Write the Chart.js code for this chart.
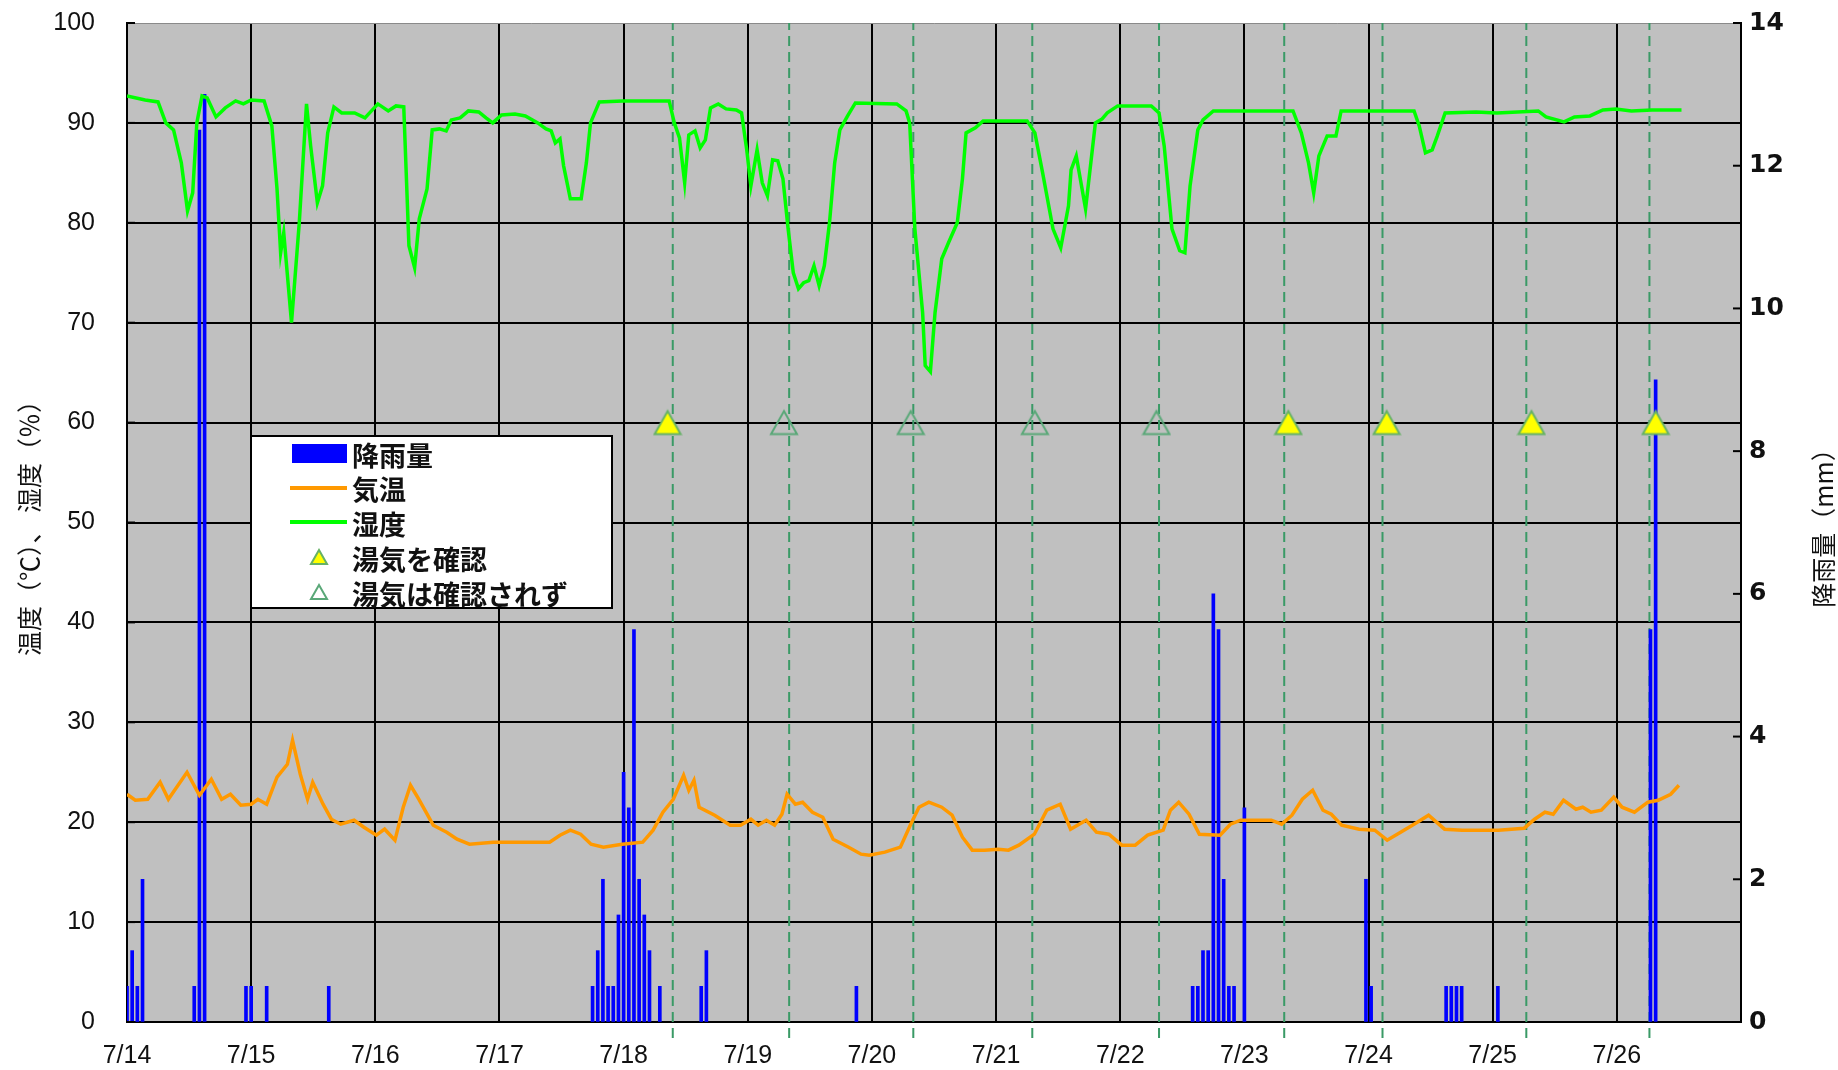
<!DOCTYPE html>
<html lang="ja">
<head>
<meta charset="utf-8">
<title>降雨量・気温・湿度</title>
<script src="https://cdn.jsdelivr.net/npm/chart.js@4.4.1/dist/chart.umd.min.js"></script>
<style>
    html, body { margin: 0; padding: 0; background: #fff; }
    .wrap { position: relative; width: 1838px; height: 1070px; }
    canvas { display: block; }
    .legend {
        position: absolute; left: 250px; top: 435px; width: 359px; height: 170px;
        border: 2px solid #000; background: #fff;
        font-family: 'Noto Sans CJK JP', sans-serif; font-size: 27px; font-weight: bold; color: #111;
    }
    .legend .sym { position: absolute; }
    .legend .label { position: absolute; left: 100px; line-height: 1; white-space: nowrap; transform: translateY(-50%); }
</style>
</head>
<body>
<div class="wrap">
    <canvas id="chart" width="1838" height="1070"></canvas>
    <div class="legend">
        <div class="sym" style="left:40px; top:7px; width:55px; height:19px; background:#0000ff;"></div>
        <span class="label" style="top:17px;">降雨量</span>
        <div class="sym" style="left:38px; top:49px; width:57px; height:4px; background:#ff9900;"></div>
        <span class="label" style="top:51px;">気温</span>
        <div class="sym" style="left:38px; top:83px; width:57px; height:4px; background:#00ff00;"></div>
        <span class="label" style="top:86px;">湿度</span>
        <svg class="sym" style="left:57px; top:111px;" width="20" height="18"><polygon points="10,2 18,16 2,16" fill="#ffff00" stroke="#66b266" stroke-width="2"/></svg>
        <span class="label" style="top:121px;">湯気を確認</span>
        <svg class="sym" style="left:57px; top:146px;" width="20" height="18"><polygon points="10,2 18,16 2,16" fill="none" stroke="#5aa878" stroke-width="2"/></svg>
        <span class="label" style="top:156px;">湯気は確認されず</span>
    </div>
</div>
<script>
const dayLabels = ['7/14', '7/15', '7/16', '7/17', '7/18', '7/19', '7/20', '7/21', '7/22', '7/23', '7/24', '7/25', '7/26'];

// hours counted from 7/14 0:00
const rainHours = [0, 1, 2, 3, 13, 14, 15, 23, 24, 27, 39,
    90, 91, 92, 93, 94, 95, 96, 97, 98, 99, 100, 101, 103, 111, 112,
    141,
    206, 207, 208, 209, 210, 211, 212, 213, 214, 216,
    239.5, 240.5,
    255, 256, 257, 258, 265,
    294.5, 295.5];
const rainMm = [0.5, 1, 0.5, 2, 0.5, 12.5, 13, 0.5, 0.5, 0.5, 0.5,
    0.5, 1, 2, 0.5, 0.5, 1.5, 3.5, 3, 5.5, 2, 1.5, 1, 0.5, 0.5, 1,
    0.5,
    0.5, 0.5, 1, 1, 6, 5.5, 2, 0.5, 0.5, 3,
    2, 0.5,
    0.5, 0.5, 0.5, 0.5, 0.5,
    5.5, 9];

const tempHours = [0, 1.6, 4, 6.4, 8, 9.6, 11.6, 14, 16.3, 18.3, 20, 22, 24, 25.3, 27, 29, 31, 32, 33.5, 34.9,
    35.9, 37.9, 39.5, 41.3, 43.9, 45.8, 48.2, 49.8, 51.8, 53.4, 54.8, 56.4, 57.8, 59.2, 61.8, 63.8, 66.2, 70.8,
    75.7, 81.7, 83.7, 85.7, 87.7, 89.7, 92.1, 95.7, 99.7, 101.7, 103.6, 105.6, 107.6, 108.6, 109.6, 110.6, 113.6,
    116.6, 118.6, 120.6, 122, 123.6, 125.2, 126.6, 127.6, 129.2, 130.6, 132.5, 134.5, 136.5, 139.5, 141.9, 143.5,
    146.5, 149.5, 151.5, 153.1, 155, 157.5, 159.5, 161.5, 163.4, 165.8, 168.4, 170.4, 172.4, 175.4, 177.8, 180.4,
    182.4, 185.4, 187.4, 189.8, 192.3, 194.9, 197.3, 200.3, 201.7, 203.3, 205.3, 207.3, 211.3, 213.3, 215.3, 218.3,
    221.2, 223.2, 225.2, 227.2, 229.2, 231.2, 232.8, 234.8, 238.2, 241.2, 243.6, 246.2, 248.8, 251.6, 254.7, 258.1,
    265.1, 270.1, 272.1, 274.1, 275.7, 277.7, 280.1, 281.4, 283, 285, 287.4, 289, 291.4, 294, 296, 298.4, 300];
const tempValues = [22.8, 22.2, 22.3, 24, 22.3, 23.5, 25, 22.7, 24.3, 22.3, 22.8, 21.7, 21.8, 22.3, 21.8, 24.5, 25.8, 28.2, 24.8, 22.3,
    24, 21.8, 20.3, 19.8, 20.2, 19.5, 18.7, 19.3, 18.2, 21.5, 23.7, 22.3, 21, 19.7, 19, 18.3, 17.8, 18,
    18, 18, 18.7, 19.2, 18.8, 17.8, 17.5, 17.8, 18, 19.2, 21, 22.3, 24.7, 23.2, 24.2, 21.5, 20.7,
    19.7, 19.7, 20.3, 19.7, 20.2, 19.7, 20.8, 22.8, 21.8, 22, 21, 20.5, 18.3, 17.5, 16.8, 16.7,
    17, 17.5, 19.8, 21.5, 22, 21.5, 20.7, 18.5, 17.2, 17.2, 17.3, 17.2, 17.7, 18.8, 21.2, 21.8,
    19.3, 20.2, 19, 18.8, 17.7, 17.7, 18.7, 19.2, 21.2, 22, 20.8, 18.8, 18.7, 19.8, 20.2, 20.2,
    20.2, 19.8, 20.7, 22.3, 23.2, 21.2, 20.8, 19.7, 19.3, 19.2, 18.2, 19, 19.8, 20.7, 19.3, 19.2,
    19.2, 19.4, 20.3, 21, 20.8, 22.2, 21.3, 21.5, 21, 21.2, 22.5, 21.5, 21, 22, 22.2, 22.8, 23.7];

const humHours = [0, 3.5, 6, 7.5, 9, 10.5, 11.7, 12.7, 13.5, 14.5, 15.5, 17.2, 19, 21, 22.5, 24, 26.5, 28, 29, 29.7,
    30.3, 31.8, 33.3, 34.7, 35.5, 36.8, 37.8, 38.8, 40, 41.5, 44, 46, 48.5, 50.5, 52, 53.5, 54.5, 55.6, 56.5, 58,
    59, 60.4, 61.7, 62.7, 64.4, 66, 68, 69.4, 70.7, 72.4, 75, 77, 79.4, 81, 82, 82.8, 83.7, 84.4, 85.7, 87.8,
    88.8, 89.6, 91.3, 95.8, 104.8, 105.8, 106.8, 107.8, 108.6, 109.8, 110.8, 111.8, 112.8, 114.3, 115.8, 117.8,
    118.8, 119.8, 120.6, 121.8, 122.8, 123.8, 124.8, 125.8, 126.8, 127.8, 128.8, 129.8, 130.8, 131.8, 132.8,
    133.8, 134.8, 135.8, 136.8, 137.8, 139.3, 140.8, 148.8, 150.6, 151.3, 152.3, 153.8, 154.3, 155.3, 156.2,
    157.5, 158.8, 160.5, 161.5, 162.2, 164, 165.5, 174, 175.5, 177, 179, 180.5, 182, 182.5, 183.5, 185.3, 187.2,
    188.5, 189.5, 191.5, 198, 199.5, 200.5, 202, 203.5, 204.5, 205.5, 207, 208, 210, 225.4, 227, 228.4, 229.4,
    230.4, 232, 233.7, 234.7, 248.8, 249.8, 251, 252.3, 253.3, 254.8, 260.8, 264.8, 272.8, 274.3, 277.8, 279.8,
    282.8, 285.3, 287.8, 290.8, 294.8, 300.5];
const humValues = [92.7, 92.3, 92.1, 90, 89.3, 86, 81.2, 83, 90, 92.7, 92.5, 90.6, 91.5, 92.2, 91.9, 92.3, 92.2, 89.7, 83.4, 77,
    79, 70, 80, 91.9, 87.7, 82, 83.7, 89, 91.6, 91, 91, 90.5, 91.9, 91.2, 91.7, 91.6, 77.7, 75.5, 80.4, 83.4,
    89.3, 89.4, 89.2, 90.3, 90.5, 91.2, 91.1, 90.5, 90, 90.8, 90.9, 90.7, 90, 89.4, 89.2, 88, 88.4, 85.7, 82.4, 82.4,
    86, 90, 92.1, 92.2, 92.2, 90, 88.5, 84, 88.8, 89.2, 87.5, 88.3, 91.5, 91.9, 91.4, 91.3,
    91, 87.3, 83.7, 87.3, 84, 82.7, 86.3, 86.2, 84.4, 79.4, 75, 73.4, 74, 74.2, 75.7,
    73.7, 75.7, 80, 86, 89.3, 90.7, 92, 91.9, 91.2, 90, 79.4, 71, 65.7, 65.1, 71,
    76.4, 78, 80, 84.4, 89, 89.5, 90.2, 90.2, 89, 85, 79.4, 77.5, 81.7, 85.3, 86.7, 81.4, 90,
    90.4, 91, 91.7, 91.7, 91, 87.7, 79.4, 77.2, 77, 83.7, 89.3, 90.3, 91.2, 91.2, 89, 86, 83,
    86.7, 88.7, 88.7, 91.2, 91.2, 89.7, 87, 87.3, 88.7, 91, 91.1, 91, 91.2, 90.6, 90.1, 90.6,
    90.7, 91.3, 91.4, 91.2, 91.3, 91.3];

const observationHours = [105.5, 128, 152, 175, 199.5, 223.7, 242.7, 270.5, 294.3];
const steamSeenHours = [104.5, 224.5, 243.5, 271.5, 295.5];
const steamNotSeenHours = [127, 151.5, 175.5, 199];
const steamMarkLevel = 60;

function toPoints(xs, ys) {
    return xs.map((x, i) => ({ x, y: ys[i] }));
}

function observationLinePoints(hours) {
    return hours.flatMap((h) => [{ x: h, y: -1.6 }, { x: h, y: 100 }, { x: h, y: null }]);
}

// triangle centred on its own box, so the mark sits across the 60 line
function triangleMark(fill, stroke) {
    const size = 30;
    const mark = document.createElement('canvas');
    mark.width = size;
    mark.height = size;
    const ctx = mark.getContext('2d');
    ctx.beginPath();
    ctx.moveTo(15, 3.5);
    ctx.lineTo(28, 26.5);
    ctx.lineTo(2, 26.5);
    ctx.closePath();
    if (fill) {
        ctx.fillStyle = fill;
        ctx.fill();
    }
    ctx.strokeStyle = stroke;
    ctx.lineWidth = 2;
    ctx.stroke();
    return mark;
}

const plotFrame = {
    id: 'plotFrame',
    beforeDraw(chart) {
        const { ctx, chartArea: area } = chart;
        ctx.save();
        ctx.fillStyle = '#c0c0c0';
        ctx.fillRect(area.left, area.top, area.right - area.left, area.bottom - area.top);
        ctx.restore();
    },
    afterDraw(chart) {
        const { ctx, chartArea: area, scales } = chart;
        ctx.save();
        ctx.strokeStyle = '#000';
        ctx.lineWidth = 2;
        scales.y.ticks.forEach((tick) => {
            const y = scales.y.getPixelForValue(tick.value);
            ctx.beginPath();
            ctx.moveTo(area.left, y);
            ctx.lineTo(area.left + 8, y);
            ctx.stroke();
        });
        scales.y2.ticks.forEach((tick) => {
            const y = scales.y2.getPixelForValue(tick.value);
            ctx.beginPath();
            ctx.moveTo(area.right - 8, y);
            ctx.lineTo(area.right, y);
            ctx.stroke();
        });

        ctx.fillStyle = '#111';
        ctx.font = '25px "Noto Sans CJK JP"';
        ctx.textAlign = 'center';
        ctx.textBaseline = 'middle';
        [[29, '温度（℃）、 湿度（％）'], [1823, '降雨量（mm）']].forEach(([x, text]) => {
            ctx.save();
            ctx.translate(x, 522);
            ctx.rotate(-Math.PI / 2);
            ctx.fillText(text, 0, 0);
            ctx.restore();
        });
        ctx.restore();
    },
};

const tickFont = { family: "'Liberation Sans', Arial, sans-serif", size: 25 };

new Chart(document.getElementById('chart'), {
    type: 'bar',
    data: {
        datasets: [
            {
                type: 'scatter',
                label: '湯気を確認',
                data: steamSeenHours.map((h) => ({ x: h, y: steamMarkLevel })),
                pointStyle: triangleMark('#ffff00', '#66b266'),
                order: 0,
            },
            {
                type: 'scatter',
                label: '湯気は確認されず',
                data: steamNotSeenHours.map((h) => ({ x: h, y: steamMarkLevel })),
                pointStyle: triangleMark(null, '#5aa878'),
                order: 0,
            },
            {
                type: 'line',
                label: '湿度',
                data: toPoints(humHours, humValues),
                borderColor: '#00ff00',
                borderWidth: 3.5,
                pointRadius: 0,
                tension: 0,
                order: 1,
            },
            {
                type: 'line',
                label: '気温',
                data: toPoints(tempHours, tempValues),
                borderColor: '#ff9900',
                borderWidth: 3.5,
                pointRadius: 0,
                tension: 0,
                order: 2,
            },
            {
                type: 'bar',
                label: '降雨量',
                data: toPoints(rainHours, rainMm),
                yAxisID: 'y2',
                backgroundColor: '#0000ff',
                barThickness: 3,
                order: 3,
            },
            {
                type: 'line',
                label: 'observation',
                data: observationLinePoints(observationHours),
                borderColor: '#3a9a66',
                borderWidth: 2,
                borderDash: [10, 6],
                pointRadius: 0,
                spanGaps: false,
                clip: false,
                order: 4,
            },
        ],
    },
    options: {
        responsive: false,
        animation: false,
        layout: { padding: { top: 23, left: 0, right: 0, bottom: 0 } },
        plugins: {
            legend: { display: false },
            tooltip: { enabled: false },
        },
        scales: {
            x: {
                type: 'linear',
                min: 0,
                max: 312,
                offset: false,
                afterFit(scale) { scale.height = 48; },
                grid: { offset: false, color: '#000', lineWidth: 2, drawTicks: false },
                border: { color: '#000', width: 2 },
                ticks: {
                    stepSize: 24,
                    autoSkip: false,
                    maxRotation: 0,
                    padding: 19,
                    color: '#111',
                    font: tickFont,
                    callback: (value) => dayLabels[value / 24] ?? '',
                },
            },
            y: {
                position: 'left',
                min: 0,
                max: 100,
                afterFit(scale) { scale.width = 127; },
                // the long, invisible tick mark keeps the labels away from the axis
                grid: {
                    color: (ctx) => (ctx.tick && ctx.tick.value === 100 ? '#8a8a8a' : '#000'),
                    lineWidth: (ctx) => (ctx.tick && ctx.tick.value === 100 ? 1 : 2),
                    tickLength: 32,
                    tickColor: 'rgba(0,0,0,0)',
                },
                border: { color: '#000', width: 2 },
                ticks: { stepSize: 10, padding: 0, color: '#111', font: tickFont },
            },
            y2: {
                position: 'right',
                min: 0,
                max: 14,
                afterFit(scale) { scale.width = 97; },
                grid: { drawOnChartArea: false, tickLength: 8, tickColor: 'rgba(0,0,0,0)' },
                border: { color: '#000', width: 2 },
                ticks: {
                    stepSize: 2,
                    padding: 0,
                    color: '#111',
                    font: { family: "'DejaVu Sans', sans-serif", weight: 'bold', size: 25 },
                },
            },
        },
    },
    plugins: [plotFrame],
});
</script>
</body>
</html>
